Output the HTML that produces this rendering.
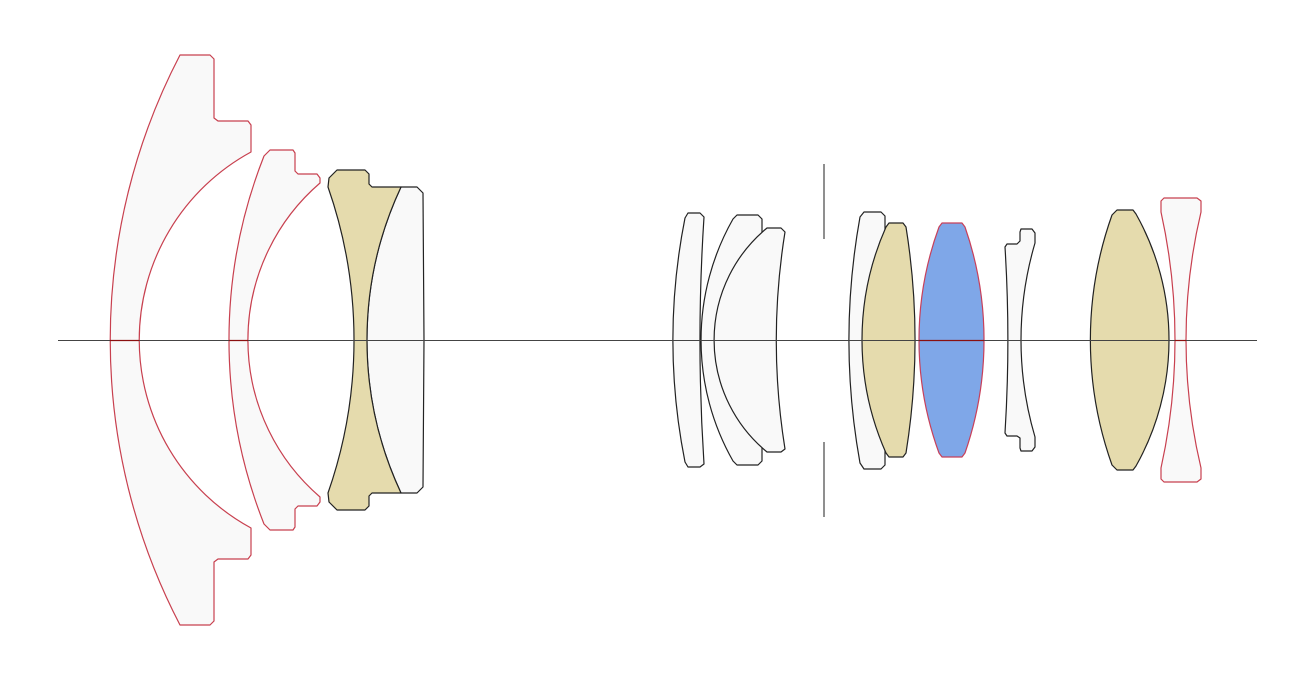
<!DOCTYPE html>
<html><head><meta charset="utf-8"><style>html,body{margin:0;padding:0;background:#fff}svg{display:block}</style></head><body>
<svg width="1316" height="682" viewBox="0 0 1316 682" xmlns="http://www.w3.org/2000/svg">
<g stroke-width="1.2" stroke-linejoin="round">
<!-- L1 -->
<path d="M180,55 L210,55 L214,59 L214,118 L218,121 L248,121 L251,125 L251,152 A214,214 0 0 0 251,528 L251,555 L248,559 L218,559 L214,562 L214,621 L210,625 L180,625 A617,617 0 0 1 180,55 Z" fill="#f9f9f9" stroke="#c8404f"/>
<!-- L2 -->
<path d="M270,150 L293,150 L295,153 L295,171 L298,174 L317,174 L320,178 L320,183 A207,207 0 0 0 320,497 L320,502 L317,506 L298,506 L295,509 L295,527 L293,530 L270,530 L264,524 A501,501 0 0 1 264,156 Z" fill="#f9f9f9" stroke="#c8404f"/>
<!-- L4 -->
<path d="M401,187 L417,187 L423,193 L424,340 L423,487 L417,493 L401,493 A361,361 0 0 1 401,187 Z" fill="#f9f9f9" stroke="#222"/>
<!-- L3 -->
<path d="M337,170 L365,170 L369,174 L369,184 L372,187 L401,187 A361,361 0 0 0 401,493 L372,493 L369,496 L369,506 L365,510 L337,510 L329,502 L328,493 A463,463 0 0 0 328,187 L329,178 Z" fill="#e5dbad" stroke="#222"/>
<!-- L5 -->
<path d="M688,213 L700,213 L704,217 A1893,1893 0 0 0 704,464 L700,467 L688,467 L685,462 A626,626 0 0 1 685,218 Z" fill="#f9f9f9" stroke="#222"/>
<!-- L6 -->
<path d="M737,215 L758,215 L762,219 L762,461 L758,465 L737,465 L733,461 A245,245 0 0 1 733,219 Z" fill="#f9f9f9" stroke="#222"/>
<!-- L7 -->
<path d="M767,228 L781,228 L785,232 A683,683 0 0 0 785,449 L781,452 L767,452 A145,145 0 0 1 767,228 Z" fill="#f9f9f9" stroke="#222"/>
<!-- stop -->
<line x1="824" y1="164" x2="824" y2="239" stroke="#444"/>
<line x1="824" y1="442" x2="824" y2="517" stroke="#444"/>
<!-- L8 -->
<path d="M864,212 L881,212 L885,216 L885,465 L881,469 L864,469 L860,463 A693,693 0 0 1 860,217 Z" fill="#f9f9f9" stroke="#222"/>
<!-- L9 -->
<path d="M889,223 L903,223 L906,227 A714,714 0 0 1 906,453 L903,457 L889,457 L886,453 A278,278 0 0 1 886,227 Z" fill="#e5dbad" stroke="#222"/>
<!-- L10 -->
<path d="M942,223 L962,223 L965,227 A345,345 0 0 1 965,453 L962,457 L942,457 L939,453 A329,329 0 0 1 939,227 Z" fill="#7fa7e8" stroke="#c8405a"/>
<!-- L11 -->
<path d="M1021,229 L1032,229 L1035,233 L1035,243 A343,343 0 0 0 1035,437 L1035,447 L1032,451 L1021,451 L1020,448 L1020,438 L1017,436 L1007,436 L1005,433 A1500,1500 0 0 0 1005,247 L1007,244 L1017,244 L1020,241 L1020,232 Z" fill="#f9f9f9" stroke="#222"/>
<!-- L12 -->
<path d="M1117,210 L1133,210 L1136,214 A257,257 0 0 1 1136,466 L1133,470 L1117,470 L1112,465 A372,372 0 0 1 1112,215 Z" fill="#e5dbad" stroke="#222"/>
<!-- L13 -->
<path d="M1164,198 L1197,198 L1201,201 L1201,212 A554,554 0 0 0 1201,468 L1201,479 L1197,482 L1164,482 L1161,479 L1161,468 A592,592 0 0 0 1161,212 L1161,201 Z" fill="#f9f9f9" stroke="#c8404f"/>
</g>
<line x1="58" y1="340.5" x2="1257" y2="340.5" stroke="#444" stroke-width="1"/>
<g stroke="#8a1010" stroke-width="1.2">
<line x1="110" y1="340.5" x2="139" y2="340.5"/>
<line x1="229" y1="340.5" x2="248" y2="340.5"/>
<line x1="919" y1="340.5" x2="984" y2="340.5"/>
<line x1="1175" y1="340.5" x2="1186" y2="340.5"/>
</g>
</svg>
</body></html>
